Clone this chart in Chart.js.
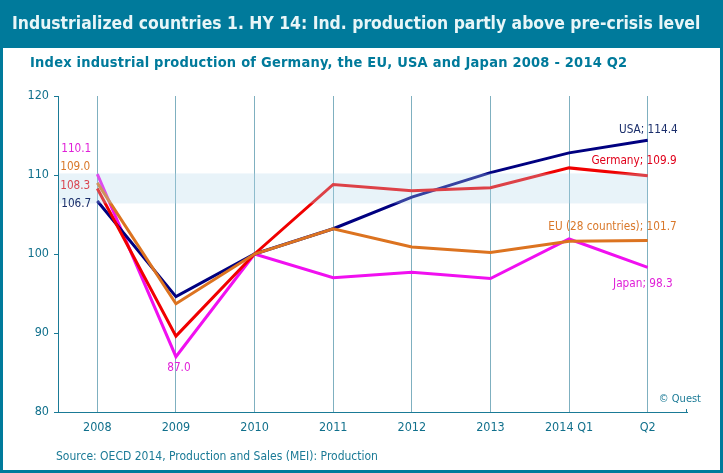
<!DOCTYPE html>
<html lang="en">
<head>
    <meta charset="UTF-8">
    <title>Industrialized countries 1. HY 14</title>
    <script src="https://cdn.jsdelivr.net/npm/chart.js"></script>
    <style>
        html, body { margin: 0; padding: 0; background: #fff; }
        canvas { display: block; }
    </style>
</head>
<body>
    <canvas id="myChart" width="723" height="473"></canvas>
    <script>
        const categories = ['2008', '2009', '2010', '2011', '2012', '2013', '2014 Q1', 'Q2'];
        const usaValues = [106.7, 94.6, 100, 103.2, 107.2, 110.3, 112.8, 114.4];
        const germanyValues = [108.3, 89.6, 100, 108.8, 108.0, 108.4, 110.9, 109.9];
        const euValues = [109.0, 93.7, 100, 103.2, 100.9, 100.2, 101.6, 101.7];
        const japanValues = [110.1, 87.0, 100, 97.0, 97.7, 96.9, 101.9, 98.3];
        const yTicks = [80, 90, 100, 110, 120];
        const bandRange = [106.4, 110.2];

        const titleText = 'Industrialized countries 1. HY 14: Ind. production partly above pre-crisis level';
        const subtitleText = 'Index industrial production of Germany, the EU, USA and Japan 2008 - 2014 Q2';
        const sourceText = 'Source: OECD 2014, Production and Sales (MEI): Production';

        const TEAL = '#007a9b';
        const TICK_TEXT = '#1a7a96';
        const LABEL_FONT = '11.7px "DejaVu Sans Condensed"';

        // Wertelabels: Position relativ zum Datenpunkt
        const pointLabels = [
            { text: '110.1', series: japanValues, i: 0, dx: -6, dy: -25, color: '#e020d8', align: 'right' },
            { text: '109.0', series: euValues, i: 0, dx: -7, dy: -16, color: '#d9782a', align: 'right' },
            { text: '108.3', series: germanyValues, i: 0, dx: -7, dy: -2, color: '#d94450', align: 'right' },
            { text: '106.7', series: usaValues, i: 0, dx: -6, dy: 3, color: '#1b2f6b', align: 'right' },
            { text: '87.0', series: japanValues, i: 1, dx: 3, dy: 11, color: '#e020d8', align: 'center' },
            { text: 'USA; 114.4', series: usaValues, i: 7, dx: 30, dy: -10, color: '#1b2f6b', align: 'right' },
            { text: 'Germany; 109.9', series: germanyValues, i: 7, dx: 29, dy: -15, color: '#e0001a', align: 'right' },
            { text: 'EU (28 countries); 101.7', series: euValues, i: 7, dx: 29, dy: -14, color: '#d9782a', align: 'right' },
            { text: 'Japan; 98.3', series: japanValues, i: 7, dx: 25, dy: 17, color: '#e020d8', align: 'right' }
        ];

        function drawText(ctx, text, x, y, font, color, align, spacing) {
            ctx.font = font;
            ctx.fillStyle = color;
            ctx.textAlign = align || 'left';
            ctx.textBaseline = 'middle';
            ctx.letterSpacing = spacing || '0px';
            ctx.fillText(text, x, y);
            ctx.letterSpacing = '0px';
        }

        // Rahmen und weisse Flaeche
        const framePlugin = {
            id: 'frame',
            beforeDraw(chart) {
                const ctx = chart.ctx;
                ctx.save();
                ctx.fillStyle = TEAL;
                ctx.fillRect(0, 0, 723, 473);
                ctx.fillStyle = '#fff';
                ctx.fillRect(3, 48, 717, 422);
                ctx.restore();
            }
        };

        // Band liegt halbtransparent ueber den Linien, danach die Texte
        const overlayPlugin = {
            id: 'overlay',
            afterDraw(chart) {
                const ctx = chart.ctx;
                const x = chart.scales.x;
                const y = chart.scales.y;
                ctx.save();

                const bandTop = y.getPixelForValue(bandRange[1]);
                const bandBottom = y.getPixelForValue(bandRange[0]);
                ctx.fillStyle = 'rgba(180, 215, 235, 0.3)';
                ctx.fillRect(x.left + 1, bandTop, x.getPixelForValue(categories.length - 1) - x.left - 1, bandBottom - bandTop);

                // kleiner Strich am Ende der x-Achse
                ctx.strokeStyle = TICK_TEXT;
                ctx.lineWidth = 1;
                ctx.beginPath();
                ctx.moveTo(x.right - 0.5, y.bottom);
                ctx.lineTo(x.right - 0.5, y.bottom - 3);
                ctx.stroke();

                drawText(ctx, titleText, 12, 24, 'bold 17.4px "DejaVu Sans Condensed"', '#e8f6f8');
                drawText(ctx, subtitleText, 30, 63, 'bold 14.5px "DejaVu Sans Condensed"', TEAL, 'left', '0.22px');
                drawText(ctx, sourceText, 56, 457, '12px "DejaVu Sans Condensed"', TICK_TEXT);
                drawText(ctx, '© Quest', 701, 399, '11px "DejaVu Sans Condensed"', TICK_TEXT, 'right');

                pointLabels.forEach(l => {
                    const px = x.getPixelForValue(l.i);
                    const py = y.getPixelForValue(l.series[l.i]);
                    drawText(ctx, l.text, px + l.dx, py + l.dy, LABEL_FONT, l.color, l.align);
                });
                ctx.restore();
            }
        };

        function lineSet(label, values, color) {
            return {
                label: label,
                data: values,
                borderColor: color,
                backgroundColor: color,
                borderWidth: 3,
                pointRadius: 0,
                tension: 0,
                fill: false
            };
        }

        new Chart(document.getElementById('myChart').getContext('2d'), {
            type: 'line',
            data: {
                labels: categories,
                datasets: [
                    // erster Eintrag liegt oben
                    lineSet('EU (28 countries)', euValues, '#dc7320'),
                    lineSet('Germany', germanyValues, '#f00000'),
                    lineSet('USA', usaValues, '#000080'),
                    lineSet('Japan', japanValues, '#f010f0')
                ]
            },
            options: {
                responsive: false,
                animation: false,
                devicePixelRatio: 1,
                layout: { padding: { top: 96, right: 36, left: 0, bottom: 0 } },
                plugins: { legend: { display: false }, tooltip: { enabled: false } },
                scales: {
                    x: {
                        offset: true,
                        afterFit(scale) { scale.height = 61; },
                        border: { color: TICK_TEXT, width: 1 },
                        grid: { color: '#7fb0c0', lineWidth: 1, tickLength: 0 },
                        ticks: {
                            color: '#11708c',
                            padding: 8,
                            maxRotation: 0,
                            font: { family: '"DejaVu Sans Condensed"', size: 12.5 }
                        }
                    },
                    y: {
                        min: 80,
                        max: 120,
                        afterFit(scale) { scale.width = 58; },
                        afterBuildTicks(scale) { scale.ticks = yTicks.map(v => ({ value: v })); },
                        border: { color: TICK_TEXT, width: 1 },
                        grid: { drawOnChartArea: false, color: TICK_TEXT, tickLength: 4 },
                        ticks: {
                            color: '#11708c',
                            padding: 5,
                            font: { family: '"DejaVu Sans Condensed"', size: 12.5 }
                        }
                    }
                }
            },
            plugins: [framePlugin, overlayPlugin]
        });
    </script>
</body>
</html>
